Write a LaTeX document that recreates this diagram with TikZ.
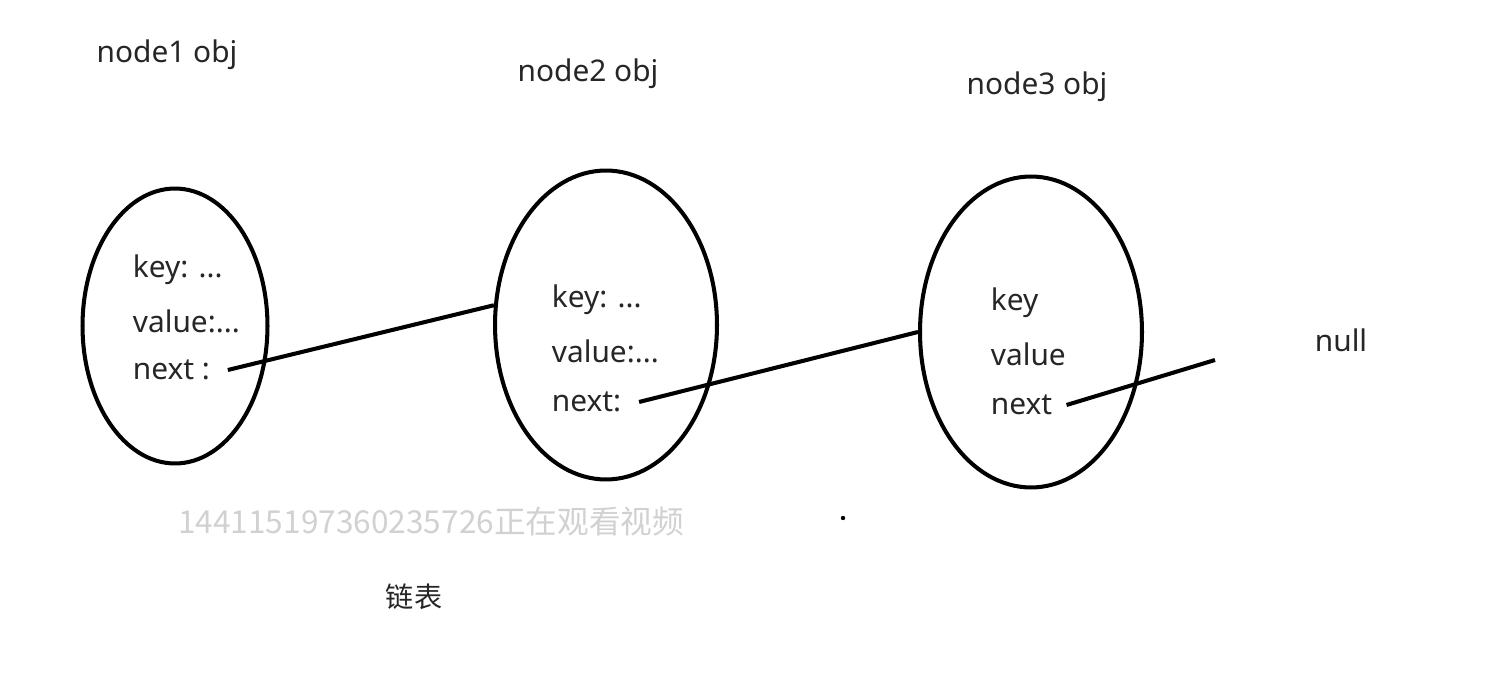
\documentclass[tikz,border=0pt]{standalone}
\usepackage{fontspec}
\setmainfont{Noto Sans}
\newfontfamily\cjk{Noto Sans CJK SC}
\usetikzlibrary{shapes.geometric}
\begin{document}
\begin{tikzpicture}[x=0.02cm,y=-0.02cm,font=\fontsize{17}{20}\selectfont,text=black!85,
obj/.style={draw,ellipse,line width=2.3pt,inner sep=0pt},
field/.style={anchor=west,inner sep=2pt},
link/.style={line width=2.3pt}]
\useasboundingbox(0,0)rectangle(1508,678);
% objects
\node[obj,minimum width=3.7cm,minimum height=5.5cm](e1)at(175,326){};
\node[obj,minimum width=4.44cm,minimum height=6.18cm](e2)at(606,325){};
\node[obj,minimum width=4.44cm,minimum height=6.22cm](e3)at(1031,332){};
\node(t1)at(167,55){node1 obj};
\node(t2)at(588,74){node2 obj};
\node(t3)at(1037,87){node3 obj};
% fields
\node[field](k1)at(129,270){key: ...};
\node[field](v1)at(129,321){value:...};
\node[field](n1)at(129,370){next :};
\node[field](k2)at(548,300){key: ...};
\node[field](v2)at(548,351){value:...};
\node[field](n2)at(548,402){next:};
\node[field](k3)at(987,303){key};
\node[field](v3)at(987,354){value};
\node[field](n3)at(987,405){next};
\node(null)at(1341,340){null};
\coordinate(end)at(1215,360);
% links
\draw[link]([xshift=8pt]n1.east)--(e2.170);
\draw[link]([xshift=8pt]n2.east)--(e3.west);
\draw[link]([xshift=6pt]n3.east)--(end);
\node[anchor=west,text=black!18,font=\cjk\fontsize{18}{22}\selectfont](wm)at(172,522){144115197360235726正在观看视频};
\fill(843,518)circle(2.2);
\node[font=\cjk\fontsize{16}{20}\selectfont](cap)at(414,597){链表};
\end{tikzpicture}
\end{document}
